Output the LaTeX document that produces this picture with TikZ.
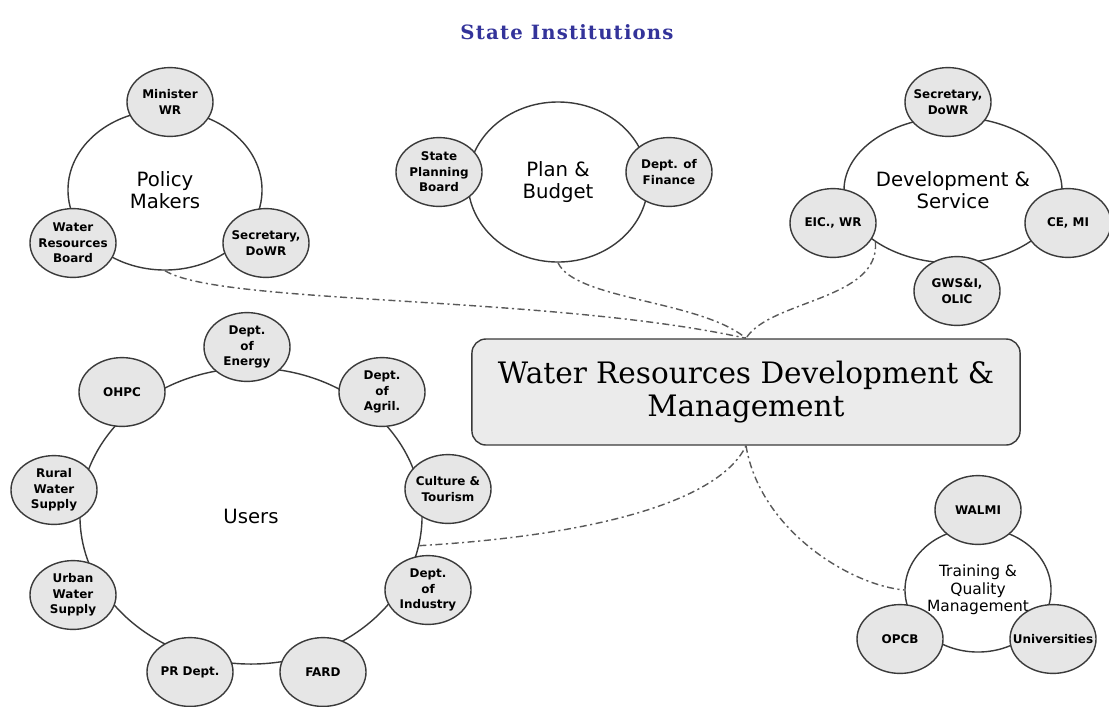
\documentclass[tikz,border=0pt]{standalone}
\usepackage{fontspec}
\usetikzlibrary{shapes.geometric}
\newfontfamily\labelfont{DejaVu Sans}
\newfontfamily\titlefont{DejaVu Serif}
\definecolor{nodegray}{HTML}{E6E6E6}
\definecolor{boxgray}{HTML}{EBEBEB}
\definecolor{rimgray}{HTML}{3A3A3A}
\definecolor{titleblue}{HTML}{33339A}

\begin{document}
\begin{tikzpicture}[x=0.025cm, y=-0.025cm]
\tikzstyle{member}=[draw=rimgray, fill=nodegray, line width=1pt, shape=ellipse, minimum width=2.15cm, minimum height=1.72cm, inner xsep=-0.4cm, inner ysep=0pt, align=center, font=\labelfont\bfseries\fontsize{8.5}{11}\selectfont]
\tikzstyle{group}=[draw=rimgray, fill=white, line width=1pt, shape=ellipse, inner sep=0pt, align=center, font=\labelfont\fontsize{14}{16}\selectfont]
\tikzstyle{link}=[draw=black!65, line width=1pt, dash pattern=on 5pt off 2.5pt on 1.5pt off 2.5pt]
\useasboundingbox (0,0) rectangle (1109,706);

\node[font=\titlefont\bfseries\fontsize{14}{16}\selectfont\addfontfeature{LetterSpace=6}, text=titleblue] (title) at (567,32) {State Institutions};

% central box
\node[draw=rimgray, fill=boxgray, rounded corners=10pt, line width=1pt, minimum width=13.7cm, minimum height=2.65cm, align=center, font=\titlefont\fontsize{21}{24}\selectfont] (wrdm) at (746,392) {Water Resources Development \&\\Management};

% groups
\node[group, minimum width=4.85cm, minimum height=4cm] (policy) at (165,190) {Policy\\Makers};
\node[group, minimum width=4.5cm, minimum height=4cm] (plan) at (558,182) {Plan \&\\Budget};
\node[group, minimum width=4.85cm, minimum height=3.65cm] (dev) at (953,190) {Development \&\\Service};
\node[group, minimum width=8.55cm, minimum height=7.4cm] (users) at (251,516) {Users};
\node[group, minimum width=3.65cm, minimum height=3.1cm, font=\labelfont\fontsize{11}{12.5}\selectfont] (train) at (978,590) {Training \&\\Quality\\Management};

% members
\node[member] (minister) at (170,102) {Minister\\WR};
\node[member] (wrb) at (73,243) {Water\\Resources\\Board};
\node[member] (secpol) at (266,243) {Secretary,\\DoWR};
\node[member] (spb) at (439,172) {State\\Planning\\Board};
\node[member] (fin) at (669,172) {Dept. of\\Finance};
\node[member] (secdev) at (948,102) {Secretary,\\DoWR};
\node[member] (eic) at (833,223) {EIC., WR};
\node[member] (ce) at (1068,223) {CE, MI};
\node[member] (gws) at (957,291) {GWS\&I,\\OLIC};
\foreach \px/\py/\nm/\txt in {247/347/energy/{Dept.\\of\\Energy}, 382/392/agri/{Dept.\\of\\Agril.}, 448/489/culture/{Culture \&\\Tourism}, 428/590/industry/{Dept.\\of\\Industry}, 323/672/fard/FARD, 190/672/prd/PR Dept., 73/595/urban/{Urban\\Water\\Supply}, 54/490/rural/{Rural\\Water\\Supply}, 122/392/ohpc/OHPC}
{
\node[member] (\nm) at (\px,\py) {\txt};
}
\node[member] (walmi) at (978,510) {WALMI};
\node[member] (opcb) at (900,639) {OPCB};
\node[member] (univ) at (1053,639) {Universities};

% links to the box
\draw[link] (policy.south) .. controls (220,305) and (550,295) .. (wrdm.north);
\draw[link] (plan.south) .. controls (575,300) and (700,300) .. (wrdm.north);
\draw[link] (dev.south west) .. controls (880,300) and (770,300) .. (wrdm.north);
\draw[link] (users.-10) .. controls (600,535) and (720,500) .. (wrdm.south);
\draw[link] (wrdm.south) .. controls (760,530) and (850,585) .. (train.west);
\end{tikzpicture}
\end{document}
